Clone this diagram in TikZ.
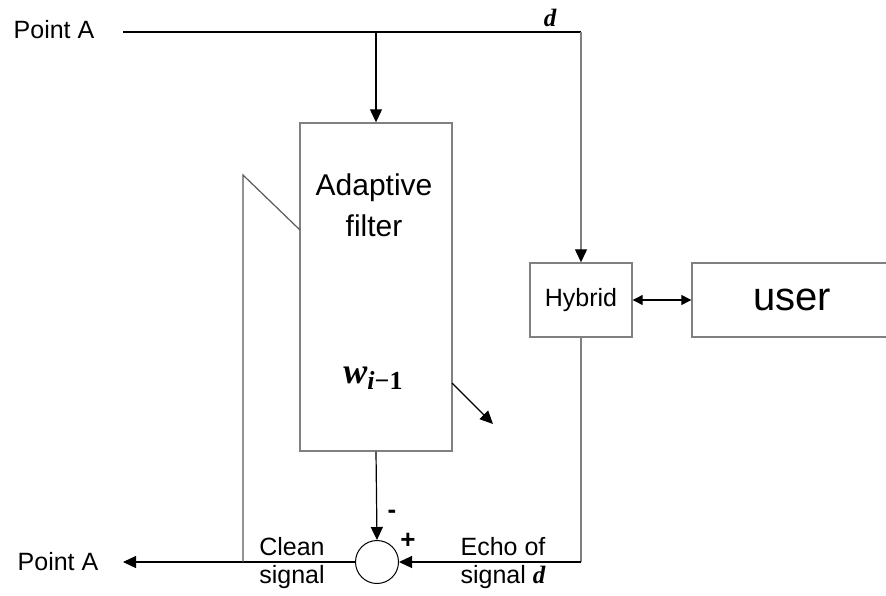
\documentclass[tikz,border=0pt]{standalone}
\usepackage{amsmath, amssymb}
\usepackage[no-math]{fontspec}
\setmainfont{Liberation Sans}
\newfontfamily\varfont{Liberation Serif}
\newcommand{\mvar}[1]{{\varfont\bfseries\itshape #1}}
\usetikzlibrary{arrows.meta, positioning}

\begin{document}
\begin{tikzpicture}[x=1pt, y=-1pt, font=\fontsize{25}{28}\selectfont]
    \tikzstyle{box}=[draw=gray, line width=1.4pt, inner sep=0pt]
    \tikzstyle{sig}=[line width=1.2pt]
    \tikzstyle{tipped}=[-{Triangle[length=13pt, width=12pt, color=black]}]

    \useasboundingbox (0,0) rectangle (886,595);

    \node (srcA) at (54,30) {Point A};
    \node (dstA) at (58,562) {Point A};
    \node[font=\fontsize{25}{28}\selectfont] (dtop) at (550,18) {\mvar{d}};

    \node[box, minimum width=152pt, minimum height=328pt] (filter) at (376,287) {};
    \node[align=center, font=\fontsize{30}{41}\selectfont] (filtertxt) at (374,205) {Adaptive\\filter};
    \node[font=\fontsize{36}{38}\selectfont] (weights) at (373,378) {\mvar{w}\raisebox{-6pt}{\fontsize{26}{26}\selectfont\varfont\bfseries\itshape i\upshape −1}};

    \node[box, minimum width=102pt, minimum height=74pt] (hybrid) at (581,300) {Hybrid};
    \node[box, minimum width=200pt, minimum height=74pt, font=\fontsize{40}{44}\selectfont] (user) at (792,300) {user};
    \node[circle, draw, line width=1pt, minimum size=43pt, inner sep=0pt] (sum) at (377,562) {};

    \coordinate (lineA) at (123,32);
    \coordinate (split) at (376,32);
    \coordinate (corner) at (581,32);
    \coordinate (dstTip) at (123,562);
    \coordinate (fbBase) at (243,562);
    \coordinate (fbTop) at (243,175);
    \coordinate (fbEnd) at (300,230);
    \coordinate (adaptFrom) at (452,383);
    \coordinate (adaptTo) at (493,424);

    \draw[sig] (lineA) -- (corner);
    \draw[sig, tipped] (split) -- (filter.north);
    \draw[sig, tipped, gray] (corner) -- (hybrid.north);
    \draw[sig, tipped] (filter.south) -- (sum.north);
    \draw[sig, gray] (hybrid.south) -- (hybrid.south |- sum.east) coordinate (echo);
    \draw[sig, tipped] (echo) -- (sum.east);
    \draw[sig, tipped] (sum.west) -- (dstTip);
    \draw[sig, gray!70!black] (fbBase) -- (fbTop) -- (fbEnd);
    \draw[sig, tipped] (adaptFrom) -- (adaptTo);
    \draw[sig, {Triangle[length=10pt, width=10pt]}-{Triangle[length=10pt, width=10pt]}] (hybrid.east) -- (user.west);

    \node[font=\fontsize{26}{28}\selectfont\bfseries] (minus) at (392,514) {-};
    \node[font=\fontsize{26}{28}\selectfont\bfseries] (plus) at (408,541) {+};
    \node[align=center] (clean) at (292,563) {Clean\\signal};
    \node[align=center] (echotxt) at (503,563) {Echo of\\signal \mvar{d}};
\end{tikzpicture}
\end{document}
